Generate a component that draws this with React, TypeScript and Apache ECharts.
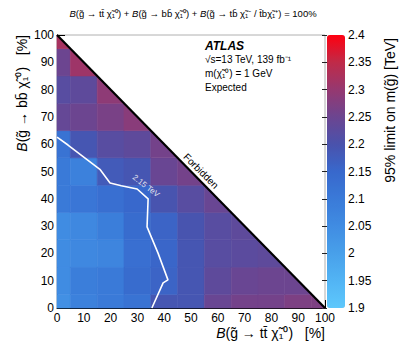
import React, { useEffect, useRef } from "react";
import * as echarts from "echarts";

// cell centres along B(g -> tt chi) [%]
const ttValues = [0, 10, 20, 30, 40, 50, 60, 70, 80, 90, 100];
// cell centres along B(g -> bb chi) [%]
const bbValues = [0, 10, 20, 30, 40, 50, 60, 70, 80, 90, 100];

// 95% CL expected limit on m(gluino) [TeV], one array per bb row, indexed by tt
const limitB0 = [2.04, 2.08, 2.1, 2.12, 2.19, 2.19, 2.245, 2.26, 2.26, 2.27, 2.27];
const limitB10 = [2.05, 2.09, 2.1, 2.14, 2.16, 2.19, 2.23, 2.245, 2.25, 2.25];
const limitB20 = [2.05, 2.06, 2.07, 2.13, 2.155, 2.19, 2.22, 2.225, 2.23];
const limitB30 = [2.05, 2.06, 2.09, 2.14, 2.16, 2.195, 2.22, 2.23];
const limitB40 = [2.1, 2.11, 2.13, 2.15, 2.195, 2.22, 2.245];
const limitB50 = [2.1, 2.08, 2.18, 2.19, 2.245, 2.26];
const limitB60 = [2.12, 2.19, 2.22, 2.23, 2.26];
const limitB70 = [2.24, 2.25, 2.265, 2.285];
const limitB80 = [2.22, 2.23, 2.29];
const limitB90 = [2.25, 2.31];
const limitB100 = [2.32];
const limitRows = [limitB0, limitB10, limitB20, limitB30, limitB40, limitB50, limitB60, limitB70, limitB80, limitB90, limitB100];

// 2.15 TeV contour
const contourTT = [0, 4.1, 16, 19.8, 24, 29.9, 34, 33.6, 37.7, 41.4, 39.6, 35.4];
const contourBB = [62.6, 59.7, 50.8, 45.8, 44.8, 43.6, 40, 29.7, 20.1, 10.3, 9.2, 0];

// kinematic boundary
const boundaryTT = [0, 100];
const boundaryBB = [100, 0];

const colorMin = 1.9;
const colorMax = 2.4;
const colorStep = 0.05;
const paletteColors = [
  "#5ec8fc",
  "#52b4f4",
  "#48a0ea",
  "#408ce2",
  "#3a7ad8",
  "#3868cc",
  "#4a52ac",
  "#6c4590",
  "#963870",
  "#c02a48",
  "#ff0010",
];

const FONT = "Liberation Sans, Arial, Helvetica, sans-serif";

function clipPoly(poly: number[][]): number[][] {
  const f = (p: number[]) => 100 - p[0] - p[1];
  const out: number[][] = [];
  for (let i = 0; i < poly.length; i++) {
    const a = poly[i];
    const b = poly[(i + 1) % poly.length];
    const fa = f(a);
    const fb = f(b);
    if (fa >= 0) out.push(a);
    if ((fa >= 0 && fb < 0) || (fa < 0 && fb >= 0)) {
      const t = fa / (fa - fb);
      out.push([a[0] + t * (b[0] - a[0]), a[1] + t * (b[1] - a[1])]);
    }
  }
  return out;
}

export default function App() {
  const ref = useRef<HTMLDivElement>(null);
  useEffect(() => {
    document.body.style.margin = "0";
    if (!ref.current) return;
    const chart = echarts.init(ref.current, undefined, { renderer: "svg" });

    const cells: number[][] = [];
    bbValues.forEach((bb, j) => {
      limitRows[j].forEach((v, i) => {
        cells.push([ttValues[i], bb, v]);
      });
    });

    const option: any = {
      animation: false,
      backgroundColor: "#fff",
      textStyle: { fontFamily: FONT },
      grid: [
        { left: 57, top: 35, width: 268, height: 273, show: true, borderColor: "#b0b0b0", borderWidth: 1, backgroundColor: "transparent" },
        { left: 327, top: 35, width: 18, height: 273, show: false },
      ],
      xAxis: [
        {
          type: "value",
          gridIndex: 0,
          min: 0,
          max: 100,
          interval: 10,
          axisLine: { show: true, lineStyle: { color: "#000", width: 1 } },
          axisTick: { show: true, inside: true, length: 8, lineStyle: { color: "#000" } },
          minorTick: { show: true, splitNumber: 5, length: 4, lineStyle: { color: "#000" } },
          splitLine: { show: false },
          axisLabel: { fontSize: 12, color: "#000", margin: 4, fontFamily: FONT },
        },
        { type: "value", gridIndex: 1, show: false, min: 0, max: 1 },
      ],
      yAxis: [
        {
          type: "value",
          gridIndex: 0,
          min: 0,
          max: 100,
          interval: 10,
          axisLine: { show: true, lineStyle: { color: "#000", width: 1 } },
          axisTick: { show: true, inside: true, length: 8, lineStyle: { color: "#000" } },
          minorTick: { show: true, splitNumber: 5, length: 4, lineStyle: { color: "#000" } },
          splitLine: { show: false },
          axisLabel: { fontSize: 12, color: "#000", margin: 3, fontFamily: FONT },
        },
        {
          type: "value",
          gridIndex: 1,
          position: "right",
          min: colorMin,
          max: colorMax,
          interval: colorStep,
          axisLine: { show: false },
          axisTick: { show: true, inside: true, length: 5, lineStyle: { color: "#222" } },
          splitLine: { show: false },
          axisLabel: {
            fontSize: 12,
            color: "#000",
            margin: 3,
            fontFamily: FONT,
            formatter: (v: number) => String(+v.toFixed(2)),
          },
        },
      ],
      visualMap: {
        type: "continuous",
        seriesIndex: 0,
        dimension: 2,
        min: colorMin,
        max: colorMax,
        left: 327,
        top: 35,
        padding: 0,
        itemWidth: 18,
        itemHeight: 273,
        calculable: false,
        hoverLink: false,
        text: null,
        inRange: { color: paletteColors },
      },
      series: [
        {
          type: "custom",
          xAxisIndex: 0,
          yAxisIndex: 0,
          data: cells,
          encode: { x: 0, y: 1 },
          renderItem: (params: any, api: any) => {
            const cx = api.value(0);
            const cy = api.value(1);
            const x0 = Math.max(0, cx - 5);
            const x1 = Math.min(100, cx + 5);
            const y0 = Math.max(0, cy - 5);
            const y1 = Math.min(100, cy + 5);
            const poly = clipPoly([
              [x0, y0],
              [x1, y0],
              [x1, y1],
              [x0, y1],
            ]);
            if (poly.length < 3) return null;
            const pts = poly.map((p) => api.coord(p));
            const c = api.visual("color");
            return {
              type: "polygon",
              shape: { points: pts },
              style: { fill: c, stroke: c, lineWidth: 0.6 },
            };
          },
          z: 1,
        },
        {
          type: "line",
          xAxisIndex: 0,
          yAxisIndex: 0,
          data: contourTT.map((x, i) => [x, contourBB[i]]),
          showSymbol: false,
          symbol: "none",
          lineStyle: { color: "#ffffff", width: 1.6 },
          z: 3,
        },
        {
          type: "line",
          xAxisIndex: 0,
          yAxisIndex: 0,
          data: boundaryTT.map((x, i) => [x, boundaryBB[i]]),
          showSymbol: false,
          symbol: "none",
          lineStyle: { color: "#000", width: 2.2 },
          z: 4,
        },
      ],
      graphic: [
        {
          type: "text",
          x: 193,
          y: 13,
          style: {
            text: "{i|B}(g̃ → tt̄ χ̃₁⁰) + {i|B}(g̃ → bb̄ χ̃₁⁰) + {i|B}(g̃ → tb̄ χ̃₁⁻ / t̄bχ̃₁⁺) = 100%",
            fontSize: 9.5,
            fontFamily: FONT,
            fill: "#000",
            align: "center",
            verticalAlign: "middle",
            rich: { i: { fontStyle: "italic", fontSize: 9.5, fontFamily: FONT } },
          },
        },
        {
          type: "text",
          x: 205,
          y: 45.5,
          style: { text: "ATLAS", fontSize: 12, fontWeight: "bold", fontStyle: "italic", fontFamily: FONT, fill: "#000", align: "left", verticalAlign: "middle" },
        },
        {
          type: "text",
          x: 205,
          y: 59,
          style: { text: "√s=13 TeV, 139 fb⁻¹", fontSize: 10, fontFamily: FONT, fill: "#000", align: "left", verticalAlign: "middle" },
        },
        {
          type: "text",
          x: 205,
          y: 73,
          style: { text: "m(χ̃₁⁰) = 1 GeV", fontSize: 10, fontFamily: FONT, fill: "#000", align: "left", verticalAlign: "middle" },
        },
        {
          type: "text",
          x: 205,
          y: 87,
          style: { text: "Expected", fontSize: 10, fontFamily: FONT, fill: "#000", align: "left", verticalAlign: "middle" },
        },
        {
          type: "text",
          x: 201,
          y: 171,
          rotation: -Math.PI / 4,
          style: { text: "Forbidden", fontSize: 10, fontFamily: FONT, fill: "#000", align: "center", verticalAlign: "middle" },
          z: 10,
        },
        {
          type: "text",
          x: 146,
          y: 186,
          rotation: -0.66,
          style: { text: "2.15 TeV", fontSize: 8, fontFamily: FONT, fill: "#e4e4f0", align: "center", verticalAlign: "middle" },
          z: 10,
        },
        {
          type: "text",
          x: 325,
          y: 333,
          style: {
            text: "{i|B}(g̃ → tt̄ χ̃₁⁰)   [%]",
            fontSize: 14,
            fontFamily: FONT,
            fill: "#000",
            align: "right",
            verticalAlign: "middle",
            rich: { i: { fontStyle: "italic", fontSize: 14, fontFamily: FONT } },
          },
        },
        {
          type: "text",
          x: 22,
          y: 35,
          rotation: Math.PI / 2,
          style: {
            text: "{i|B}(g̃ → bb̄ χ̃₁⁰)   [%]",
            fontSize: 14,
            fontFamily: FONT,
            fill: "#000",
            align: "right",
            verticalAlign: "middle",
            rich: { i: { fontStyle: "italic", fontSize: 14, fontFamily: FONT } },
          },
        },
        {
          type: "text",
          x: 390,
          y: 38,
          rotation: Math.PI / 2,
          style: { text: "95% limit on m(g̃) [TeV]", fontSize: 14, fontFamily: FONT, fill: "#000", align: "right", verticalAlign: "middle" },
        },
      ],
    };
    chart.setOption(option);
    return () => chart.dispose();
  }, []);
  return <div ref={ref} style={{ width: 407, height: 355 }} />;
}
